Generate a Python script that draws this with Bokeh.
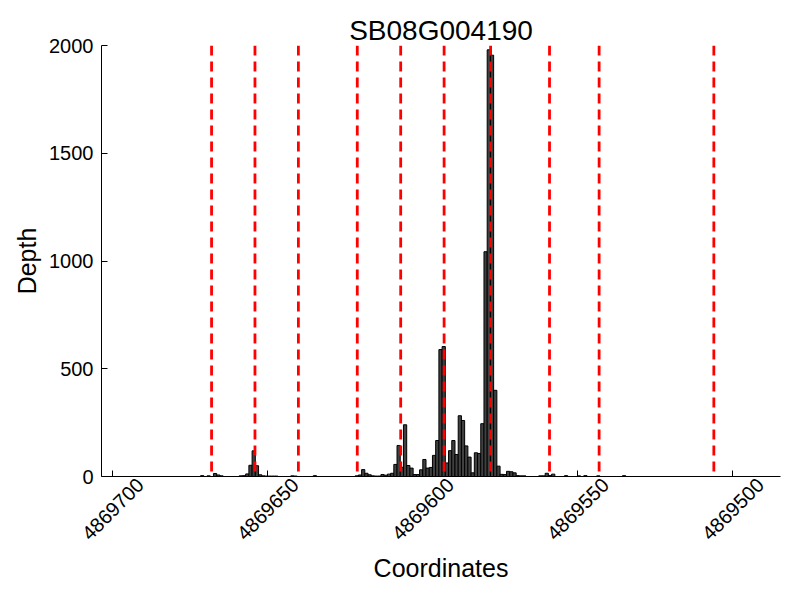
from math import pi
from bokeh.plotting import figure
from bokeh.models import Range1d, Span, ColumnDataSource, FixedTicker
from bokeh.embed import file_html
from bokeh.resources import INLINE

title_text = "SB08G004190"
x_label = "Coordinates"
y_label = "Depth"

# histogram bins: offset (in bins) from the tallest bin, and read depth
bin_origin = 4869578.58
bin_width = 1.0387
bin_offset = [-89, -87, -85, -84, -83, -77, -76, -75, -74, -73, -72, -71, -70, -69, -68, -67, -66,
              -61, -60, -54, -41, -40, -39, -38, -37, -36, -35, -34, -33, -32, -31, -30, -29,
              -28, -27, -26, -25, -24, -23, -22, -21, -20, -19, -18, -17, -16, -15, -14, -13,
              -12, -11, -10, -9, -8, -7, -6, -5, -4, -3, -2, -1, 0, 1, 2, 3, 4, 5, 6, 7, 8,
              9, 10, 11, 16, 17, 18, 19, 20, 24, 28, 30, 34, 42]
depth = [4, 3, 14, 7, 3, 3, 4, 12, 52, 119, 50, 8, 3, 2, 2, 2, 2,
         3, 2, 4, 3, 7, 32, 15, 8, 3, 2, 2, 9, 6, 11, 15, 56,
         144, 43, 240, 51, 39, 9, 9, 31, 79, 39, 42, 98, 167, 589, 603, 63,
         120, 167, 102, 282, 260, 142, 90, 17, 110, 107, 245, 1043, 1980, 1955, 400, 48, 10, 9, 24, 22, 17,
         4, 3, 3, 3, 3, 15, 5, 11, 4, 3, 4, 3, 4]

exon_bounds = [4869668, 4869654, 4869640, 4869621, 4869607, 4869593, 4869578, 4869559, 4869543, 4869506]

x_ticks = [4869700, 4869650, 4869600, 4869550, 4869500]
x_tick_labels = ["4869700", "4869650", "4869600", "4869550", "4869500"]
y_ticks = [0, 500, 1000, 1500, 2000]
x_start, x_end = 4869703.5, 4869484.5
y_start, y_end = 0, 2000
# rotated labels are anchored at their right end; move the anchor so each label is centred on its tick
label_shift = 9

centers = [bin_origin - k * bin_width for k in bin_offset]
src = ColumnDataSource(dict(x=centers, top=depth))

FONT = "Liberation Sans"

p = figure(width=800, height=600, output_backend="svg", toolbar_location=None,
           x_range=Range1d(x_start, x_end), y_range=Range1d(y_start, y_end),
           min_border_left=101, min_border_right=20, min_border_top=45, min_border_bottom=124)

p.vbar(x="x", top="top", bottom=0, width=bin_width, source=src,
       fill_color="#404040", line_color="black", line_width=1)

for b in exon_bounds:
    p.add_layout(Span(location=b, dimension="height", line_color="red",
                      line_width=2.8, line_dash="10 6"))

p.title.text = title_text
p.title.align = "center"
p.title.text_font = FONT
p.title.text_font_size = "28px"
p.title.text_font_style = "normal"
p.title.text_color = "black"
p.title.standoff = 0

p.xgrid.visible = False
p.ygrid.visible = False
p.outline_line_color = None
p.background_fill_color = "white"
p.border_fill_color = "white"

label_pos = [t - label_shift for t in x_ticks]
p.xaxis.ticker = FixedTicker(ticks=label_pos, minor_ticks=x_ticks)
p.xaxis.major_label_overrides = {lp: s for lp, s in zip(label_pos, x_tick_labels)}
p.xaxis.major_label_orientation = pi / 4
p.xaxis.major_tick_line_color = None
p.xaxis.minor_tick_line_color = "black"
p.xaxis.minor_tick_in = 6
p.xaxis.minor_tick_out = 0
p.xaxis.major_tick_in = 0
p.xaxis.major_tick_out = 0
p.xaxis.axis_label_standoff = 5

p.yaxis.ticker = y_ticks
p.yaxis.major_tick_in = 6
p.yaxis.major_tick_out = 0
p.yaxis.minor_tick_line_color = None
p.yaxis.major_tick_line_color = "black"
p.yaxis.major_label_standoff = 8
p.yaxis.axis_label_standoff = 5

p.xaxis.axis_label = x_label
p.yaxis.axis_label = y_label

for ax in (p.xaxis, p.yaxis):
    ax.axis_line_color = "black"
    ax.major_label_text_font = FONT
    ax.major_label_text_font_size = "20px"
    ax.major_label_text_color = "black"
    ax.axis_label_text_font = FONT
    ax.axis_label_text_font_size = "25px"
    ax.axis_label_text_font_style = "normal"
    ax.axis_label_text_color = "black"

open("out.html", "w").write(file_html(p, INLINE))
